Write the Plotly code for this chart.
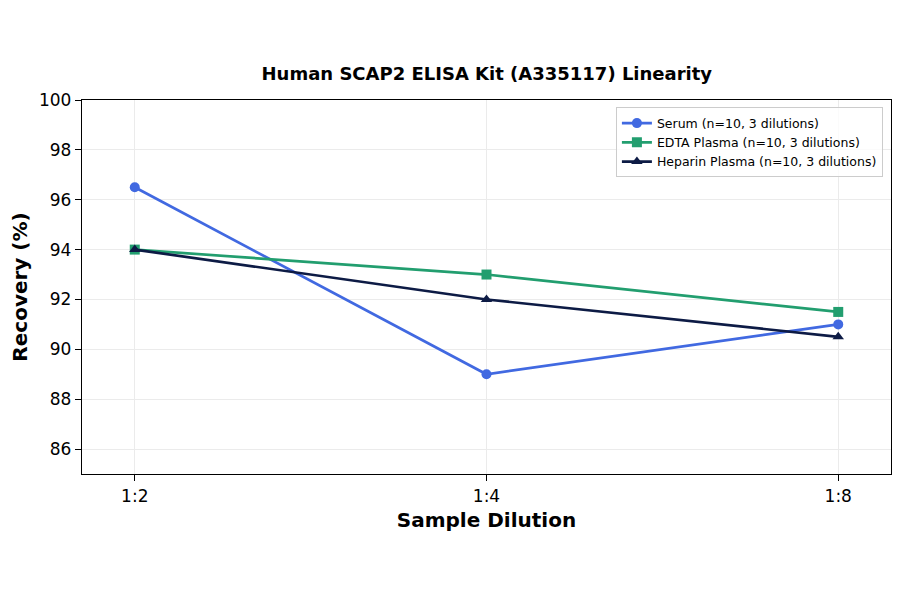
import plotly.graph_objects as go

dilutions = ['1:2', '1:4', '1:8']
serum = [96.5, 89.0, 91.0]
edta = [94.0, 93.0, 91.5]
heparin = [94.0, 92.0, 90.5]

series_names = ['Serum (n=10, 3 dilutions)', 'EDTA Plasma (n=10, 3 dilutions)',
                'Heparin Plasma (n=10, 3 dilutions)']
colors = ['#4169E1', '#229E6F', '#0D1B45']
symbols = ['circle', 'square', 'triangle-up']

fig = go.Figure()
for name, vals, col, sym in zip(series_names, [serum, edta, heparin], colors, symbols):
    fig.add_trace(go.Scatter(x=[0, 1, 2], y=vals, name=name, mode='lines+markers',
                             line=dict(color=col, width=2.7),
                             marker=dict(symbol=sym, size=10, color=col)))

font = "DejaVu Sans"
fig.update_layout(
    width=900, height=594,
    paper_bgcolor='white', plot_bgcolor='white',
    margin=dict(l=74, r=17, t=92, b=128, autoexpand=False),
    title=dict(text='<b>Human SCAP2 ELISA Kit (A335117) Linearity</b>',
               x=0.532, xanchor='center', y=0.89, yanchor='middle',
               font=dict(family=font, size=18, color='black')),
    font=dict(family=font, color='black'),
    legend=dict(x=0.99, y=0.98, xanchor='right', yanchor='top',
                bgcolor='rgba(255,255,255,0.8)', bordercolor='#cccccc', borderwidth=1,
                font=dict(family=font, size=12.5), tracegroupgap=0),
    showlegend=True,
)
fig.update_xaxes(
    range=[-0.15, 2.15], tickvals=[0, 1, 2], ticktext=dilutions,
    title=dict(text='<b>Sample Dilution</b>', font=dict(family=font, size=20), standoff=8),
    tickfont=dict(family=font, size=17), ticks='outside', ticklen=6, tickcolor='black',
    showline=True, linecolor='black', linewidth=1.3, mirror=True, automargin=False,
    showgrid=True, gridcolor='#ebebeb', gridwidth=1, zeroline=False,
)
fig.update_yaxes(
    range=[85, 100], tickvals=[86, 88, 90, 92, 94, 96, 98, 100],
    title=dict(text='<b>Recovery (%)</b>', font=dict(family=font, size=20), standoff=10),
    tickfont=dict(family=font, size=17), ticks='outside', ticklen=6, tickcolor='black',
    showline=True, linecolor='black', linewidth=1.3, mirror=True, automargin=False,
    showgrid=True, gridcolor='#ebebeb', gridwidth=1, zeroline=False,
)

fig.write_html("out.html")
